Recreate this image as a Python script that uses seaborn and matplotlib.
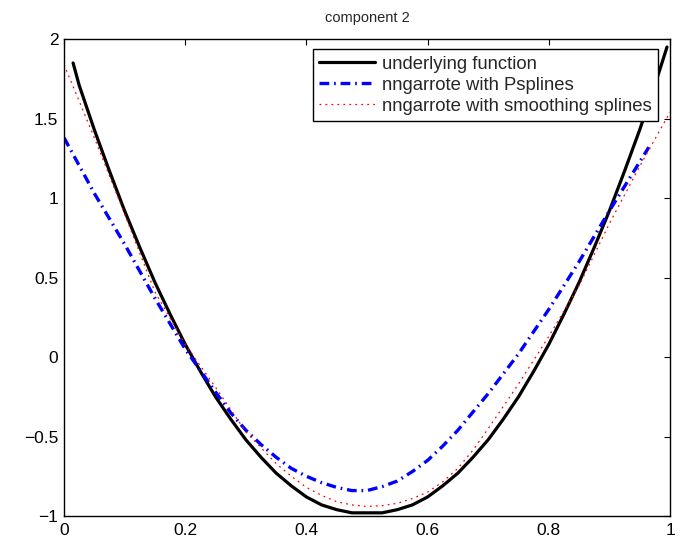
import numpy as np
import pandas as pd
import matplotlib
matplotlib.use("Agg")
import matplotlib.pyplot as plt
import seaborn as sns

# values
x_true = [0.015, 0.025, 0.05, 0.075, 0.10, 0.125, 0.15, 0.175, 0.20, 0.225,
          0.25, 0.275, 0.30, 0.325, 0.35, 0.375, 0.40, 0.425, 0.45, 0.475,
          0.50, 0.525, 0.55, 0.575, 0.60, 0.625, 0.65, 0.675, 0.70, 0.725,
          0.75, 0.775, 0.80, 0.825, 0.85, 0.875, 0.90, 0.925, 0.95, 0.975, 0.995]
y_true = [1.85, 1.71, 1.43, 1.17, 0.92, 0.69, 0.47, 0.27, 0.08, -0.09,
          -0.25, -0.39, -0.52, -0.63, -0.73, -0.81, -0.88, -0.93, -0.96, -0.98,
          -0.98, -0.98, -0.96, -0.93, -0.88, -0.81, -0.73, -0.63, -0.52, -0.39,
          -0.25, -0.09, 0.08, 0.27, 0.47, 0.69, 0.92, 1.17, 1.43, 1.71, 1.95]

x_psp = [0.0, 0.05, 0.10, 0.15, 0.20, 0.25, 0.275, 0.30, 0.325, 0.35, 0.375,
         0.40, 0.425, 0.45, 0.475, 0.50, 0.525, 0.55, 0.575, 0.60, 0.625,
         0.65, 0.70, 0.75, 0.80, 0.85, 0.90, 0.965]
y_psp = [1.38, 1.03, 0.71, 0.37, 0.05, -0.22, -0.35, -0.46, -0.55, -0.63, -0.70,
         -0.75, -0.79, -0.82, -0.84, -0.84, -0.815, -0.78, -0.72, -0.65, -0.56,
         -0.46, -0.23, 0.02, 0.30, 0.60, 0.92, 1.32]

x_ss = [0.0, 0.05, 0.10, 0.15, 0.20, 0.25, 0.30, 0.325, 0.35, 0.375, 0.40,
        0.425, 0.45, 0.475, 0.50, 0.525, 0.55, 0.575, 0.60, 0.625, 0.65,
        0.675, 0.70, 0.725, 0.75, 0.80, 0.85, 0.90, 0.95, 1.0]
y_ss = [1.84, 1.38, 0.90, 0.41, 0.08, -0.19, -0.47, -0.57, -0.67, -0.75, -0.82,
        -0.87, -0.91, -0.93, -0.94, -0.935, -0.92, -0.89, -0.85, -0.785, -0.70,
        -0.585, -0.45, -0.31, -0.17, 0.13, 0.45, 0.84, 1.20, 1.54]

labels = ["underlying function", "nngarrote with Psplines",
          "nngarrote with smoothing splines"]

sns.set_style("white")
plt.rcParams["font.family"] = ["Liberation Sans", "DejaVu Sans"]
plt.rcParams["axes.unicode_minus"] = True
plt.rcParams["lines.scale_dashes"] = False

fig = plt.figure(figsize=(6.83, 5.43), dpi=100)
ax = fig.add_axes([0.0937, 0.0497, 0.981 - 0.0937, 0.928 - 0.0497])

sns.lineplot(x=x_true, y=y_true, ax=ax, color="black", linewidth=2.3,
             label=labels[0], sort=False, estimator=None)
sns.lineplot(x=x_psp, y=y_psp, ax=ax, color="blue", linewidth=2.4,
             label=labels[1], sort=False, estimator=None)
sns.lineplot(x=x_ss, y=y_ss, ax=ax, color="red", linewidth=0.9,
             label=labels[2], sort=False, estimator=None)

lines = ax.get_lines()
lines[1].set_dashes([7, 3.5, 1.2, 3.5])
lines[2].set_dashes([1.3, 3.0])

ax.set_xlim(0, 1)
ax.set_ylim(-1, 2)
ax.set_xticks(np.arange(0, 1.01, 0.2))
ax.set_xticklabels(["0", "0.2", "0.4", "0.6", "0.8", "1"])
ax.set_yticks(np.arange(-1, 2.01, 0.5))
ax.set_yticklabels(["\u22121", "\u22120.5", "0", "0.5", "1", "1.5", "2"])
ax.tick_params(direction="in", length=4.5, width=0.8, top=True, right=True,
               labelsize=12.5, colors="black")
ax.tick_params(axis="x", pad=5)
ax.tick_params(axis="y", pad=4)
for s in ax.spines.values():
    s.set_color("black")
    s.set_linewidth(1.0)
ax.set_xlabel("")
ax.set_ylabel("")
ax.set_title("component 2", fontsize=10.5, pad=12)

leg = ax.legend(loc="upper right", bbox_to_anchor=(0.980, 0.979),
                borderaxespad=0, fontsize=13.3, handlelength=3.0,
                handletextpad=0.38, labelspacing=0.22, borderpad=0.35,
                fancybox=False, framealpha=1, edgecolor="black")
leg.get_frame().set_linewidth(1.0)

fig.savefig("out.png", dpi=100)
